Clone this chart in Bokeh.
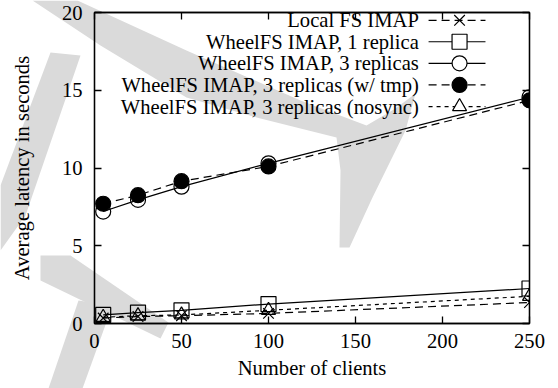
from bokeh.plotting import figure
from bokeh.layouts import column
from bokeh.models import Range1d, FixedTicker, LinearAxis, ColumnDataSource
from bokeh.core.properties import value
from bokeh.embed import file_html
from bokeh.resources import INLINE

# ---- data ----
clients = [5, 25, 50, 100, 250]
local_fs = [0.35, 0.45, 0.5, 0.65, 1.35]
wheel_1rep = [0.55, 0.7, 0.85, 1.25, 2.25]
wheel_3rep = [7.2, 7.95, 8.8, 10.3, 14.55]
wheel_3rep_tmp = [7.7, 8.25, 9.15, 10.1, 14.35]
wheel_3rep_nosync = [0.4, 0.5, 0.55, 0.85, 1.75]

series_names = ["Local FS IMAP", "WheelFS IMAP, 1 replica", "WheelFS IMAP, 3 replicas",
                "WheelFS IMAP, 3 replicas (w/ tmp)", "WheelFS IMAP, 3 replicas (nosync)"]
x_ticks = [0, 50, 100, 150, 200, 250]
y_ticks = [0, 5, 10, 15, 20]

FONT = "Liberation Serif"
FS = "20.6px"
W, H = 558, 388

# ---- background watermark layer (decoration, canvas pixels) ----
bg = figure(width=W, height=H, output_backend="svg", toolbar_location=None,
            x_range=Range1d(0, W), y_range=Range1d(H, 0), min_border=0,
            x_axis_type=None, y_axis_type=None)
bg.frame_align = False
bg.outline_line_color = None
bg.grid.visible = False
bg.background_fill_color = "white"
bg.border_fill_color = "white"
wm_xs = [
    [32, 77, 186, 300, 366, 395, 415, 405, 372, 349, 339, 340, 336, 260, 186, 100],
    [50, 80, 25, 0, 0],
    [40, 70, 168, 160, 40],
    [78, 112, 82, 48],
]
wm_ys = [
    [0, 0, 50, 100, 125, 108, 93, 130, 197, 247, 247, 170, 137, 118, 97, 45],
    [52, 55, 215, 250, 185],
    [255, 255, 322, 338, 280],
    [300, 305, 388, 388],
]
bg.patches(wm_xs, wm_ys, fill_color="#dadada", line_color=None)

# ---- chart ----
p = figure(width=W, height=H, output_backend="svg", toolbar_location=None,
           x_range=Range1d(0, 250), y_range=Range1d(0, 20),
           min_border_left=94, min_border_right=29, min_border_top=12, min_border_bottom=65)
p.frame_align = False
p.styles = {"margin-top": f"-{H}px"}
p.background_fill_color = None
p.border_fill_color = None
p.grid.visible = False
p.outline_line_color = "black"
p.outline_line_width = 1.3

for ax in (p.xaxis[0], p.yaxis[0]):
    ax.major_label_text_font = FONT
    ax.major_label_text_font_size = FS
    ax.major_label_text_color = "black"
    ax.axis_label_text_font = FONT
    ax.axis_label_text_font_size = FS
    ax.axis_label_text_font_style = "normal"
    ax.axis_label_text_color = "black"
    ax.major_tick_in = 7
    ax.major_tick_out = 0
    ax.minor_tick_line_color = None
    ax.axis_line_width = 1.3
    ax.major_tick_line_width = 1.3

p.xaxis[0].ticker = FixedTicker(ticks=x_ticks)
p.yaxis[0].ticker = FixedTicker(ticks=y_ticks)
p.xaxis[0].axis_label = "Number of clients"
p.yaxis[0].axis_label = "Average latency in seconds"
p.xaxis[0].major_label_standoff = 10
p.yaxis[0].major_label_standoff = 12
p.xaxis[0].axis_label_standoff = 6
p.yaxis[0].axis_label_standoff = 26

# mirrored inward ticks on top and right (no labels drawn)
for loc, tick in (("above", x_ticks), ("right", y_ticks)):
    a = LinearAxis(ticker=FixedTicker(ticks=tick), major_label_text_font_size="1px",
                   major_label_text_color=None, major_label_standoff=0,
                   major_tick_in=7, major_tick_out=0,
                   minor_tick_line_color=None, axis_line_width=1.3, major_tick_line_width=1.3)
    p.add_layout(a, loc)

LW = 1.2
styles = [
    (local_fs, "8 5", "x", 15, "white"),
    (wheel_1rep, "solid", "square", 15, "white"),
    (wheel_3rep, "solid", "circle", 15, "white"),
    (wheel_3rep_tmp, "8 5", "circle", 15, "black"),
    (wheel_3rep_nosync, "4 4", "triangle", 14, "white"),
]

for ys, dash, marker, size, fill in styles:
    src = ColumnDataSource(dict(x=clients, y=ys))
    p.line("x", "y", source=src, line_color="black", line_width=LW, line_dash=dash)
    p.scatter("x", "y", source=src, marker=marker, size=size, line_color="black",
              line_width=LW, fill_color=fill if fill == "black" else None)

# legend (layout in data space, top right)
leg_text_x = 186.4
leg_x0, leg_x1, leg_xm = 192.0, 224.7, 209.8
leg_y = [19.5, 18.12, 16.73, 15.34, 13.95]
for (ys, dash, marker, size, fill), name, ly in zip(styles, series_names, leg_y):
    p.text(x=[leg_text_x], y=[ly], text=[name], text_align="right", text_baseline="middle",
           text_font=value(FONT), text_font_size=FS, text_color="black")
    p.line(x=[leg_x0, leg_x1], y=[ly, ly], line_color="black", line_width=LW, line_dash=dash)
    p.scatter(x=[leg_xm], y=[ly], marker=marker, size=size, line_color="black",
              line_width=LW, fill_color=fill if fill == "black" else "white")

layout = column(bg, p, spacing=0)
open("out.html", "w").write(file_html(layout, INLINE))
